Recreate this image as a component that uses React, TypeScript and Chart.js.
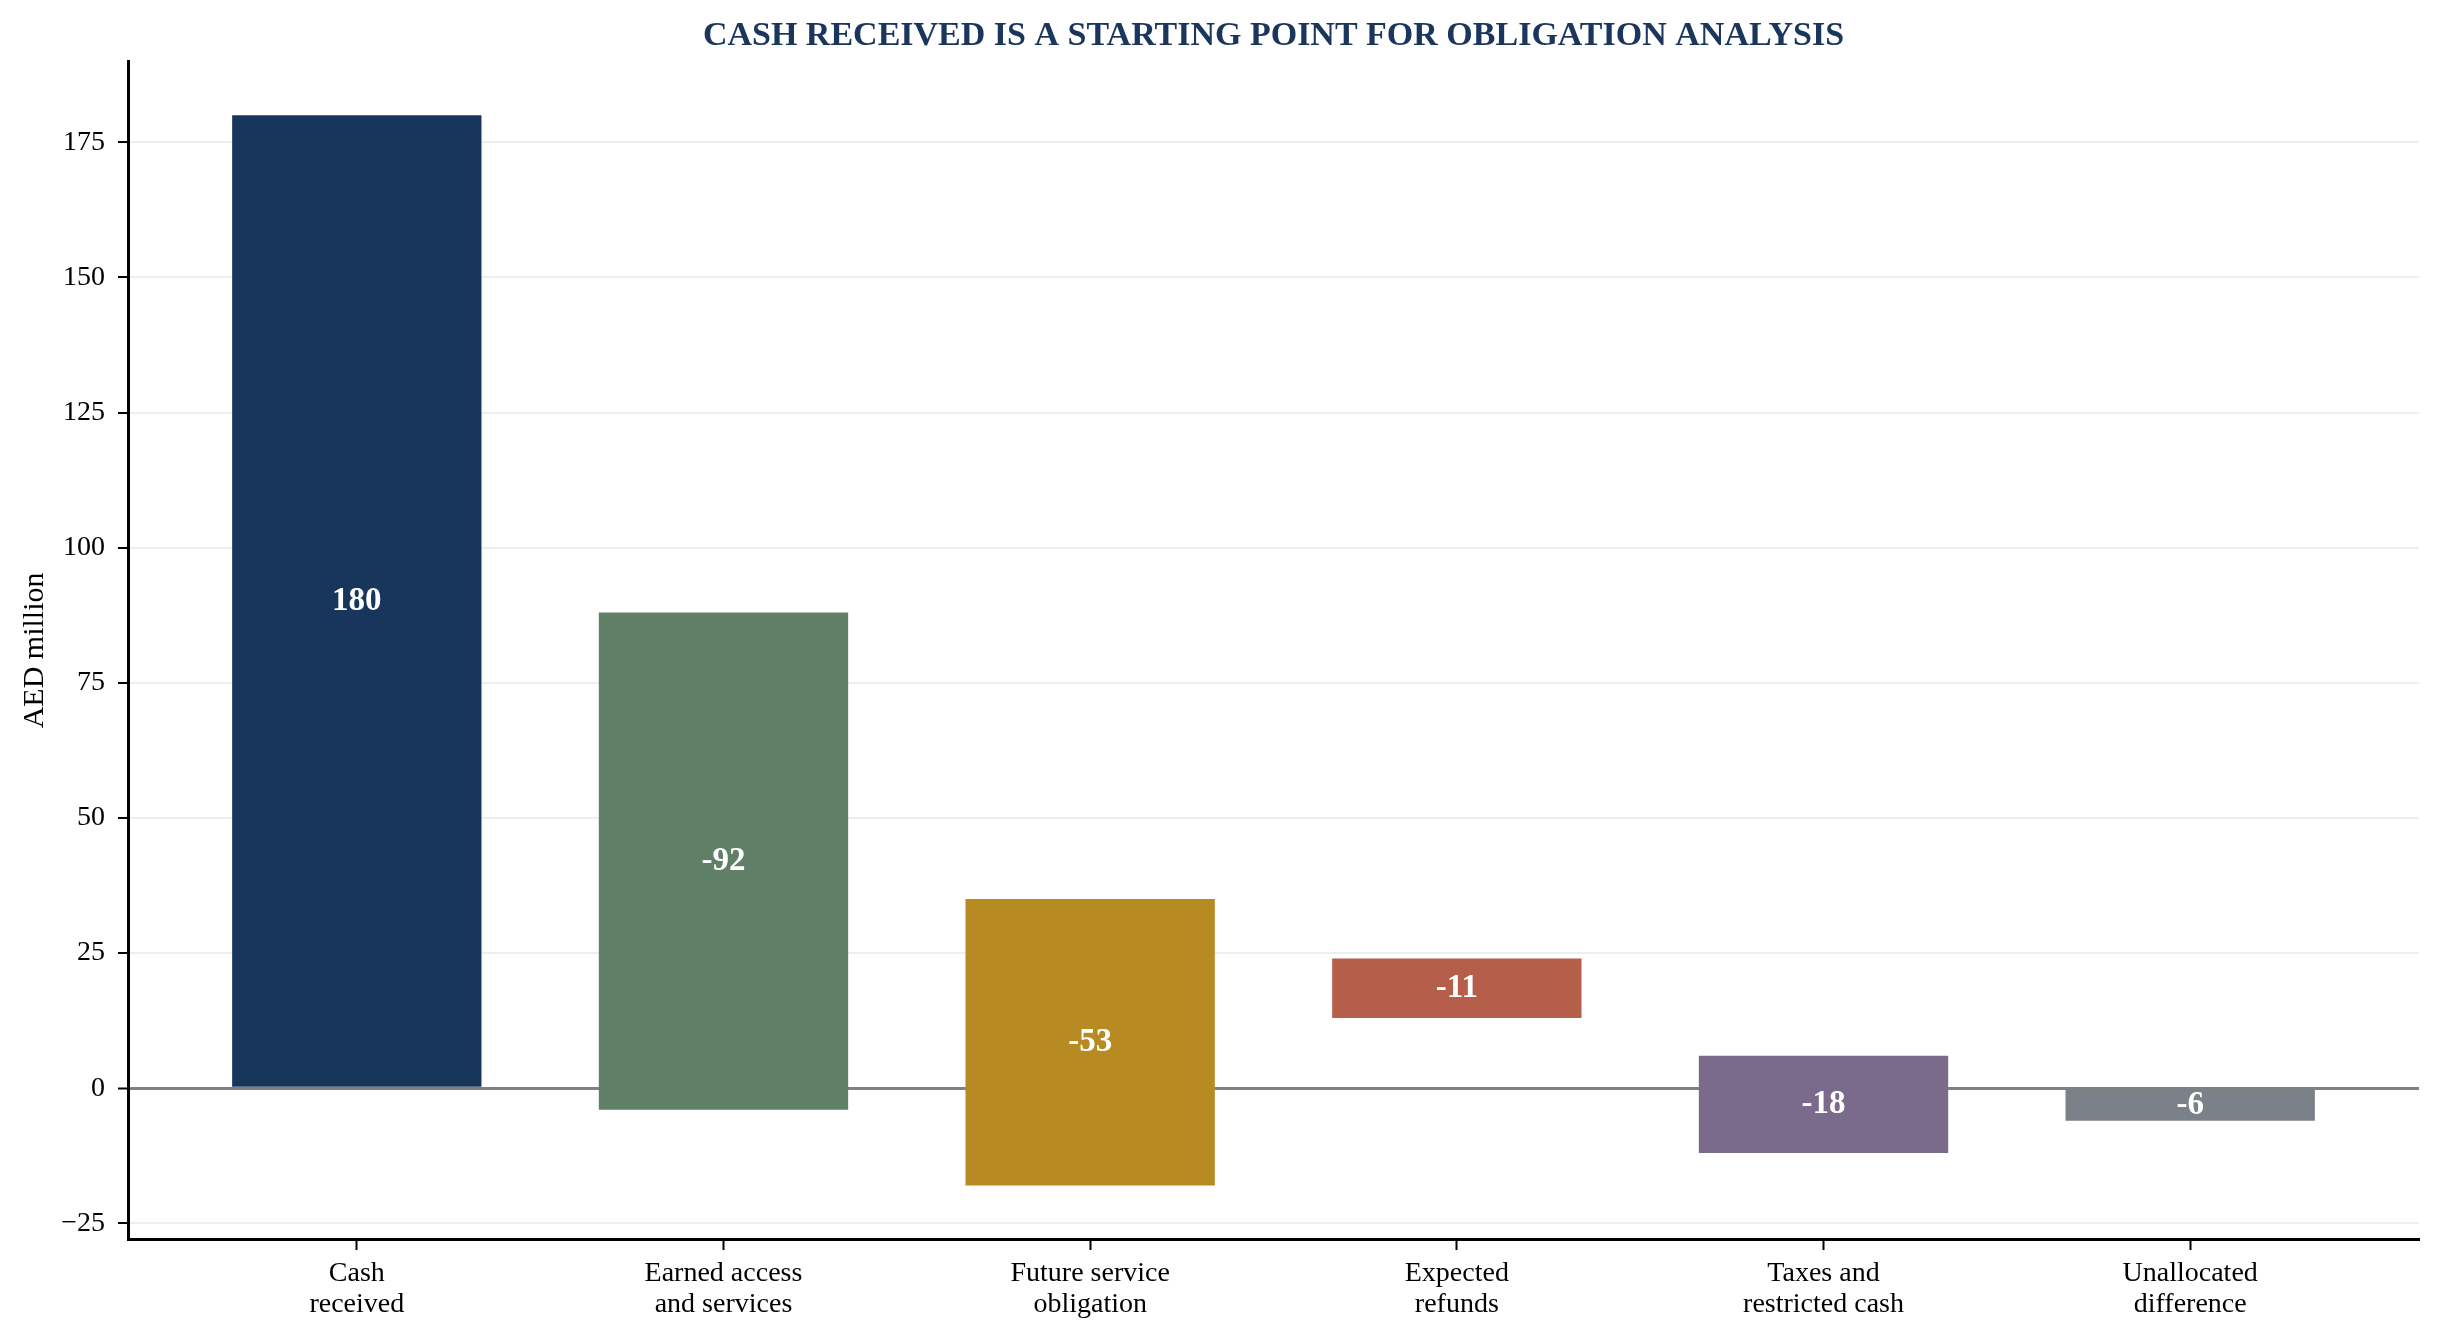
import React, { useEffect, useRef } from "react";
import { Chart, registerables, Plugin } from "chart.js";

Chart.register(...registerables);

// categories (two-line tick labels)
const categories: string[][] = [
  ["Cash", "received"],
  ["Earned access", "and services"],
  ["Future service", "obligation"],
  ["Expected", "refunds"],
  ["Taxes and", "restricted cash"],
  ["Unallocated", "difference"],
];

// the change shown on each bar
const changes = [180, -92, -53, -11, -18, -6];

// bar extents as drawn in the picture (AED million)
const barLow = [0, -4, -18, 13, -12, -6];
const barHigh = [180, 88, 35, 24, 6, 0];

const barColors = ["#18365c", "#5f7f67", "#b88a22", "#b55e4a", "#7a6b8c", "#7a8189"];

const yTicks = [-25, 0, 25, 50, 75, 100, 125, 150, 175];

const FONT = "'Liberation Serif', 'Times New Roman', serif";

// white value labels in the middle of each bar
const barLabels: Plugin<"bar"> = {
  id: "barLabels",
  afterDraw(chart) {
    const ctx = chart.ctx;
    const meta = chart.getDatasetMeta(0);
    ctx.save();
    ctx.fillStyle = "#ffffff";
    ctx.font = `bold 33px ${FONT}`;
    ctx.textAlign = "center";
    ctx.textBaseline = "middle";
    meta.data.forEach((bar: any, i: number) => {
      const { x, y, base } = bar.getProps(["x", "y", "base"], true);
      ctx.fillText(String(changes[i]), x, (y + base) / 2);
    });
    ctx.restore();
  },
};

const App = () => {
  const canvasRef = useRef<HTMLCanvasElement | null>(null);

  useEffect(() => {
    document.body.style.margin = "0";
    if (!canvasRef.current) return;

    const chart = new Chart(canvasRef.current, {
      type: "bar",
      data: {
        datasets: [
          {
            data: categories.map((_, i) => ({ x: i, y: [barLow[i], barHigh[i]] })) as any,
            backgroundColor: barColors,
            borderWidth: 0,
            borderSkipped: false,
            categoryPercentage: 1,
            barPercentage: 0.68,
          },
        ],
      },
      options: {
        responsive: false,
        devicePixelRatio: 1,
        animation: false,
        layout: { padding: { left: 0, right: 20, top: 0, bottom: 0 } },
        plugins: {
          legend: { display: false },
          tooltip: { enabled: false },
          title: {
            display: true,
            fullSize: false,
            text: "CASH RECEIVED IS A STARTING POINT FOR OBLIGATION ANALYSIS",
            color: "#1a365d",
            font: { family: FONT, size: 34, weight: "bold", lineHeight: 1.2 },
            padding: { top: 16, bottom: 5 },
          },
        },
        scales: {
          x: {
            type: "linear",
            offset: false,
            min: -0.624,
            max: 5.624,
            afterBuildTicks: (scale) => {
              scale.ticks = categories.map((_, i) => ({ value: i }));
            },
            afterFit: (scale) => {
              scale.height = 103;
            },
            ticks: {
              autoSkip: false,
              maxRotation: 0,
              color: "#000",
              padding: 8,
              font: { family: FONT, size: 28, lineHeight: 1.1 },
              callback: (v) => categories[Number(v)] ?? "",
            },
            grid: {
              offset: false,
              drawOnChartArea: false,
              drawTicks: true,
              tickLength: 11,
              tickColor: "#000",
              tickWidth: 2,
            },
            border: { display: true, color: "#000", width: 3 },
          },
          y: {
            min: -27.9,
            max: 189.9,
            z: 1,
            afterBuildTicks: (scale) => {
              scale.ticks = yTicks.map((v) => ({ value: v }));
            },
            afterFit: (scale) => {
              scale.width = 128;
            },
            ticks: {
              color: "#000",
              padding: 13,
              font: { family: FONT, size: 28 },
              callback: (v) => (Number(v) < 0 ? "\u2212" + Math.abs(Number(v)) : String(v)),
            },
            grid: {
              color: (c) => (c.tick && c.tick.value === 0 ? "#808080" : "rgba(205,205,205,0.35)"),
              lineWidth: (c) => (c.tick && c.tick.value === 0 ? 3 : 2),
              tickLength: 10,
              tickColor: "#000",
              tickWidth: 2,
            },
            border: { display: true, color: "#000", width: 3 },
            title: {
              display: true,
              text: "AED million",
              color: "#000",
              font: { family: FONT, size: 30, lineHeight: 1.2 },
              padding: { top: 17, bottom: 0 },
            },
          },
        },
      },
      plugins: [barLabels],
    });

    return () => {
      chart.destroy();
    };
  }, []);

  return (
    <div style={{ width: 2439, height: 1342, background: "#fff" }}>
      <canvas ref={canvasRef} width={2439} height={1342} style={{ display: "block" }} />
    </div>
  );
};

export default App;
